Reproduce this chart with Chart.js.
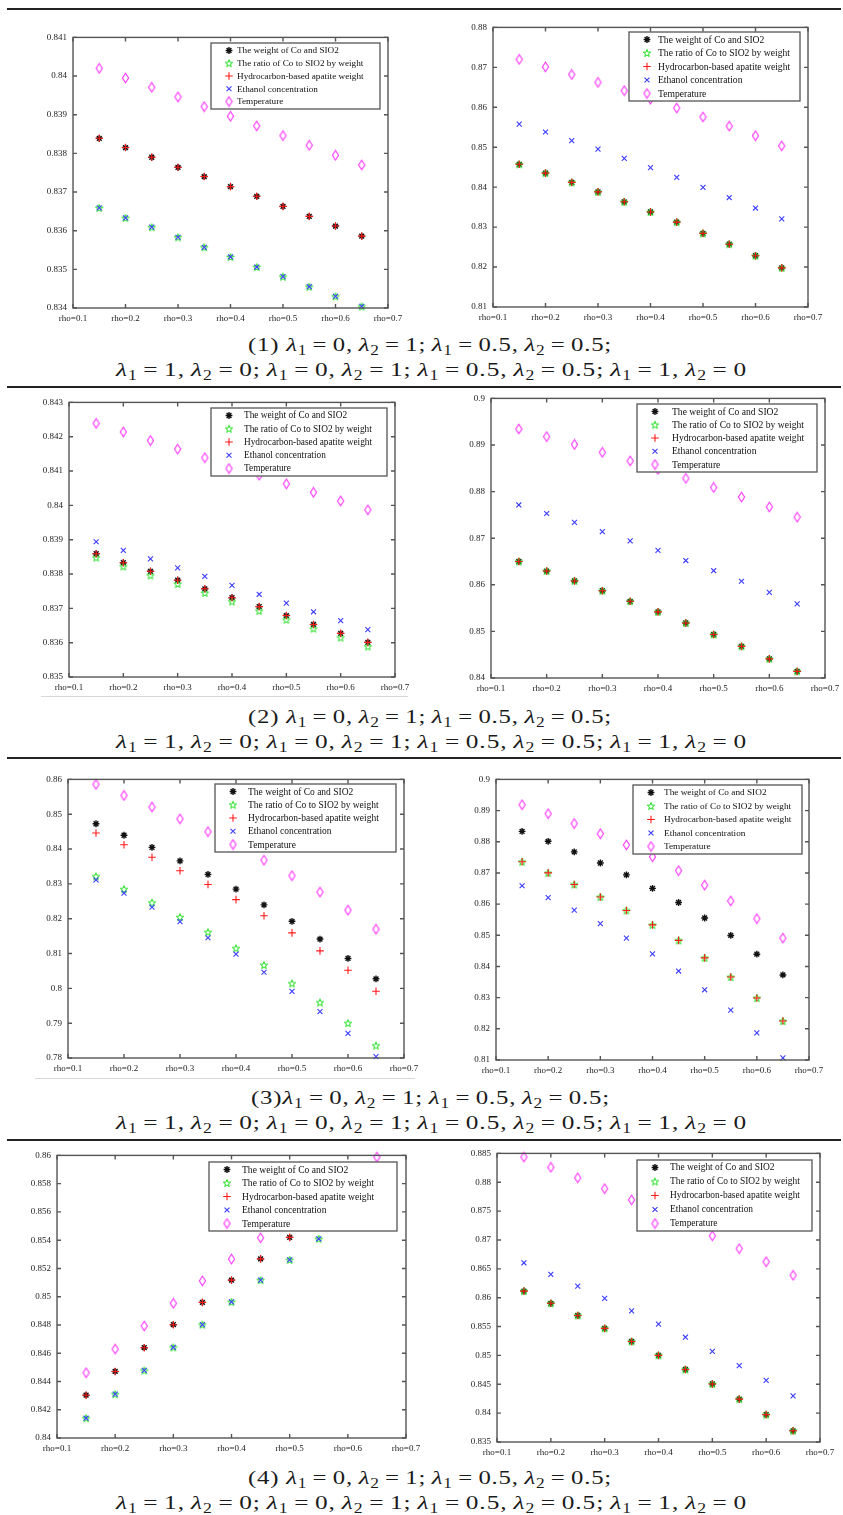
<!DOCTYPE html>
<html>
<head>
<meta charset="utf-8">
<script src="https://cdn.jsdelivr.net/npm/chart.js@4.4.1/dist/chart.umd.min.js"></script>
<style>
  body { margin: 0; width: 843px; height: 1515px; position: relative; background: #fff; overflow: hidden; }
  .rule { position: absolute; left: 7px; width: 834px; background: #222; }
  .faint { position: absolute; height: 1px; background: #d8d8d8; }
  .plot { position: absolute; }
  .cap { position: absolute; white-space: nowrap; font-family: "Liberation Serif", "DejaVu Serif", serif;
         font-size: 19.5px; line-height: 24px; color: #1a1a1a; transform-origin: 0 50%; }
  .cap sub { font-size: 70%; vertical-align: -0.3em; line-height: 0; }
  .cap .eq { padding: 0 0.22em; }
</style>
</head>
<body>
<div class="rule" style="top:8px;height:2px"></div>
<div class="rule" style="top:386px;height:1.5px"></div>
<div class="rule" style="top:757px;height:1.5px"></div>
<div class="rule" style="top:1139px;height:1.5px"></div>
<div class="faint" style="left:41px;width:367px;top:696px"></div>
<div class="faint" style="left:35px;width:380px;top:1078px"></div>
<script>
// x positions of the points and the axis ticks
const rho = [0.15, 0.2, 0.25, 0.3, 0.35, 0.4, 0.45, 0.5, 0.55, 0.6, 0.65];
const rhoTicks = [0.1, 0.2, 0.3, 0.4, 0.5, 0.6, 0.7];
const rhoTickLabels = ['rho=0.1', 'rho=0.2', 'rho=0.3', 'rho=0.4', 'rho=0.5', 'rho=0.6', 'rho=0.7'];
const seriesNames = ['The weight of Co and SIO2', 'The ratio of Co to SIO2 by weight',
  'Hydrocarbon-based apatite weight', 'Ethanol concentration', 'Temperature'];

// (1) left
const weight1L = [0.83839, 0.83815, 0.83790, 0.83764, 0.83740, 0.83714, 0.83689, 0.83663, 0.83637, 0.83612, 0.83586];
const ratio1L = [0.83659, 0.83633, 0.83609, 0.83583, 0.83557, 0.83532, 0.83506, 0.83481, 0.83455, 0.83430, 0.83404];
const hydro1L = [0.83839, 0.83815, 0.83790, 0.83764, 0.83740, 0.83714, 0.83689, 0.83663, 0.83637, 0.83612, 0.83586];
const ethanol1L = [0.83659, 0.83633, 0.83609, 0.83583, 0.83557, 0.83532, 0.83506, 0.83481, 0.83455, 0.83430, 0.83404];
const temp1L = [0.84020, 0.83995, 0.83971, 0.83946, 0.83921, 0.83896, 0.83871, 0.83846, 0.83821, 0.83795, 0.83770];
const yTicks1L = [0.834, 0.835, 0.836, 0.837, 0.838, 0.839, 0.840, 0.841];

// (1) right
const weight1R = [0.84573, 0.84351, 0.84120, 0.83881, 0.83634, 0.83379, 0.83124, 0.82843, 0.82572, 0.82283, 0.81979];
const ratio1R = [0.84573, 0.84351, 0.84120, 0.83881, 0.83634, 0.83379, 0.83124, 0.82843, 0.82572, 0.82283, 0.81979];
const hydro1R = [0.84573, 0.84351, 0.84120, 0.83881, 0.83634, 0.83379, 0.83124, 0.82843, 0.82572, 0.82283, 0.81979];
const ethanol1R = [0.85578, 0.85381, 0.85166, 0.84952, 0.84722, 0.84491, 0.84244, 0.83997, 0.83741, 0.83478, 0.83206];
const temp1R = [0.87201, 0.87012, 0.86822, 0.86624, 0.86418, 0.86204, 0.85982, 0.85759, 0.85529, 0.85290, 0.85035];
const yTicks1R = [0.81, 0.82, 0.83, 0.84, 0.85, 0.86, 0.87, 0.88];

// (2) left
const weight2L = [0.83859, 0.83833, 0.83808, 0.83782, 0.83757, 0.83731, 0.83705, 0.83679, 0.83653, 0.83627, 0.83601];
const ratio2L = [0.83848, 0.83822, 0.83796, 0.83771, 0.83745, 0.83720, 0.83693, 0.83667, 0.83641, 0.83615, 0.83589];
const hydro2L = [0.83859, 0.83833, 0.83808, 0.83782, 0.83757, 0.83731, 0.83705, 0.83679, 0.83653, 0.83627, 0.83601];
const ethanol2L = [0.83894, 0.83869, 0.83844, 0.83818, 0.83793, 0.83767, 0.83741, 0.83715, 0.83690, 0.83664, 0.83638];
const temp2L = [0.84239, 0.84214, 0.84189, 0.84164, 0.84139, 0.84114, 0.84088, 0.84063, 0.84038, 0.84013, 0.83987];
const yTicks2L = [0.835, 0.836, 0.837, 0.838, 0.839, 0.840, 0.841, 0.842, 0.843];

// (2) right
const weight2R = [0.86500, 0.86295, 0.86083, 0.85872, 0.85646, 0.85420, 0.85180, 0.84933, 0.84679, 0.84411, 0.84143];
const ratio2R = [0.86500, 0.86295, 0.86083, 0.85872, 0.85646, 0.85420, 0.85180, 0.84933, 0.84679, 0.84411, 0.84143];
const hydro2R = [0.86500, 0.86295, 0.86083, 0.85872, 0.85646, 0.85420, 0.85180, 0.84933, 0.84679, 0.84411, 0.84143];
const ethanol2R = [0.87713, 0.87530, 0.87339, 0.87142, 0.86944, 0.86740, 0.86521, 0.86302, 0.86076, 0.85836, 0.85589];
const temp2R = [0.89344, 0.89181, 0.89012, 0.88843, 0.88659, 0.88476, 0.88285, 0.88088, 0.87883, 0.87671, 0.87452];
const yTicks2R = [0.84, 0.85, 0.86, 0.87, 0.88, 0.89, 0.90];

// (3) left
const weight3L = [0.84726, 0.84396, 0.84047, 0.83660, 0.83274, 0.82849, 0.82396, 0.81925, 0.81415, 0.80858, 0.80274];
const ratio3L = [0.83217, 0.82849, 0.82462, 0.82047, 0.81613, 0.81151, 0.80670, 0.80142, 0.79594, 0.79000, 0.78358];
const hydro3L = [0.84462, 0.84123, 0.83764, 0.83377, 0.82981, 0.82547, 0.82085, 0.81594, 0.81075, 0.80519, 0.79915];
const ethanol3L = [0.83113, 0.82736, 0.82330, 0.81915, 0.81453, 0.80981, 0.80462, 0.79915, 0.79330, 0.78708, 0.78038];
const temp3L = [0.85858, 0.85538, 0.85208, 0.84868, 0.84500, 0.84104, 0.83679, 0.83236, 0.82764, 0.82245, 0.81698];
const yTicks3L = [0.78, 0.79, 0.80, 0.81, 0.82, 0.83, 0.84, 0.85, 0.86];

// (3) right
const weight3R = [0.88332, 0.88015, 0.87677, 0.87318, 0.86938, 0.86505, 0.86051, 0.85554, 0.84995, 0.84393, 0.83728];
const ratio3R = [0.87360, 0.87001, 0.86631, 0.86230, 0.85797, 0.85333, 0.84836, 0.84277, 0.83664, 0.82988, 0.82249];
const hydro3R = [0.87360, 0.87001, 0.86631, 0.86230, 0.85797, 0.85333, 0.84836, 0.84277, 0.83664, 0.82988, 0.82249];
const ethanol3R = [0.86589, 0.86209, 0.85808, 0.85375, 0.84910, 0.84403, 0.83854, 0.83252, 0.82598, 0.81869, 0.81066];
const temp3R = [0.89187, 0.88902, 0.88585, 0.88258, 0.87899, 0.87518, 0.87075, 0.86610, 0.86103, 0.85533, 0.84910];
const yTicks3R = [0.81, 0.82, 0.83, 0.84, 0.85, 0.86, 0.87, 0.88, 0.89, 0.90];

// (4) left
const weight4L = [0.84303, 0.84471, 0.84639, 0.84802, 0.84960, 0.85117, 0.85268, 0.85420, 0.85570, 0.85710, 0.85850];
const ratio4L = [0.84140, 0.84310, 0.84478, 0.84641, 0.84802, 0.84963, 0.85117, 0.85261, 0.85410, 0.85560, 0.85700];
const hydro4L = [0.84303, 0.84471, 0.84639, 0.84802, 0.84960, 0.85117, 0.85268, 0.85420, 0.85570, 0.85710, 0.85850];
const ethanol4L = [0.84140, 0.84310, 0.84478, 0.84641, 0.84802, 0.84963, 0.85117, 0.85261, 0.85410, 0.85560, 0.85700];
const temp4L = [0.84462, 0.84629, 0.84793, 0.84953, 0.85112, 0.85266, 0.85417, 0.85570, 0.85720, 0.85860, 0.85988];
const yTicks4L = [0.840, 0.842, 0.844, 0.846, 0.848, 0.850, 0.852, 0.854, 0.856, 0.858, 0.860];

// (4) right
const weight4R = [0.86114, 0.85903, 0.85692, 0.85469, 0.85241, 0.85001, 0.84756, 0.84505, 0.84242, 0.83974, 0.83694];
const ratio4R = [0.86114, 0.85903, 0.85692, 0.85469, 0.85241, 0.85001, 0.84756, 0.84505, 0.84242, 0.83974, 0.83694];
const hydro4R = [0.86114, 0.85903, 0.85692, 0.85469, 0.85241, 0.85001, 0.84756, 0.84505, 0.84242, 0.83974, 0.83694];
const ethanol4R = [0.86605, 0.86405, 0.86200, 0.85989, 0.85772, 0.85543, 0.85315, 0.85069, 0.84824, 0.84568, 0.84299];
const temp4R = [0.88437, 0.88260, 0.88078, 0.87889, 0.87695, 0.87495, 0.87290, 0.87073, 0.86851, 0.86622, 0.86388];
const yTicks4R = [0.835, 0.840, 0.845, 0.850, 0.855, 0.860, 0.865, 0.870, 0.875, 0.880, 0.885];

// caption lambda pairs
const captionTop = [[0, 1], [0.5, 0.5]];
const captionBottom = [[1, 0], [0, 1], [0.5, 0.5], [1, 0]];

// page layout: plot area [left, top, right, bottom], legend box, text offset, legend font size
const panels = [
  { area: [73, 34, 388, 308], legend: [211, 43, 380, 109], textOff: 26, fs: 9.2, yTicks: yTicks1L, series: [weight1L, ratio1L, hydro1L, ethanol1L, temp1L] },
  { area: [493, 24, 808, 307], legend: [629, 32, 800, 101], textOff: 29, fs: 9.6, yTicks: yTicks1R, series: [weight1R, ratio1R, hydro1R, ethanol1R, temp1R] },
  { area: [69, 399, 395, 677], legend: [211, 408, 387, 476], textOff: 33, fs: 9.3, yTicks: yTicks2L, series: [weight2L, ratio2L, hydro2L, ethanol2L, temp2L] },
  { area: [491, 395, 825, 678], legend: [637, 404, 817, 472], textOff: 35, fs: 9.6, yTicks: yTicks2R, series: [weight2R, ratio2R, hydro2R, ethanol2R, temp2R] },
  { area: [68, 776, 404, 1058], legend: [215, 784, 396, 852], textOff: 33, fs: 9.5, yTicks: yTicks3L, series: [weight3L, ratio3L, hydro3L, ethanol3L, temp3L] },
  { area: [496, 776, 809, 1060], legend: [633, 785, 802, 854], textOff: 31, fs: 9.25, yTicks: yTicks3R, series: [weight3R, ratio3R, hydro3R, ethanol3R, temp3R] },
  { area: [57, 1152, 406, 1438], legend: [209, 1162, 397, 1231], textOff: 33, fs: 9.6, yTicks: yTicks4L, series: [weight4L, ratio4L, hydro4L, ethanol4L, temp4L] },
  { area: [497, 1150, 820, 1442], legend: [637, 1160, 812, 1231], textOff: 33, fs: 9.45, yTicks: yTicks4R, series: [weight4R, ratio4R, hydro4R, ethanol4R, temp4R] },
];

const captions = [
  { n: '(1) ', top: 345, bottom: 370, l1: 248, w1: 364 },
  { n: '(2) ', top: 717, bottom: 742, l1: 248, w1: 364 },
  { n: '(3)', top: 1098, bottom: 1123, l1: 251, w1: 359 },
  { n: '(4) ', top: 1478, bottom: 1503, l1: 248, w1: 364 },
];

// marker images for the pentagram and the tall diamond
function pentagram(color) {
  const c = document.createElement('canvas');
  c.width = 10; c.height = 10;
  const g = c.getContext('2d');
  g.strokeStyle = color; g.lineWidth = 1;
  g.beginPath();
  for (let k = 0; k < 10; k++) {
    const r = k % 2 === 0 ? 3.9 : 1.6;
    const a = -Math.PI / 2 + k * Math.PI / 5;
    const px = 5 + r * Math.cos(a), py = 5.4 + r * Math.sin(a);
    if (k === 0) g.moveTo(px, py); else g.lineTo(px, py);
  }
  g.closePath();
  g.stroke();
  return c;
}
function diamond(color) {
  const c = document.createElement('canvas');
  c.width = 9; c.height = 12;
  const g = c.getContext('2d');
  g.strokeStyle = color; g.lineWidth = 1.1;
  g.beginPath();
  g.moveTo(4.5, 1.2); g.lineTo(7.6, 6); g.lineTo(4.5, 10.8); g.lineTo(1.4, 6); g.closePath();
  g.stroke();
  return c;
}

const markers = [
  { pointStyle: 'star', radius: 3.4, borderColor: '#111', borderWidth: 1.4 },
  { pointStyle: pentagram('#1ee01e'), radius: 4, borderColor: '#1ee01e', borderWidth: 1 },
  { pointStyle: 'cross', radius: 3.8, borderColor: '#ff1a1a', borderWidth: 1.1 },
  { pointStyle: 'crossRot', radius: 3.5, borderColor: '#3b3bff', borderWidth: 1.1 },
  { pointStyle: diamond('#ff30ff'), radius: 5, borderColor: '#ff30ff', borderWidth: 1.1 },
];

// box, inward ticks and an opaque legend inside the axes
const matlabBox = {
  id: 'matlabBox',
  afterDatasetsDraw(chart, args, opts) {
    const { ctx, chartArea: a, scales: { x, y } } = chart;
    ctx.save();
    ctx.strokeStyle = '#555';
    ctx.lineWidth = 1.4;
    ctx.beginPath();
    x.ticks.forEach((t) => {
      const px = x.getPixelForValue(t.value);
      ctx.moveTo(px, a.bottom); ctx.lineTo(px, a.bottom - 4);
      ctx.moveTo(px, a.top); ctx.lineTo(px, a.top + 4);
    });
    y.ticks.forEach((t) => {
      const py = y.getPixelForValue(t.value);
      ctx.moveTo(a.left, py); ctx.lineTo(a.left + 4, py);
      ctx.moveTo(a.right, py); ctx.lineTo(a.right - 4, py);
    });
    ctx.stroke();
    ctx.strokeRect(a.left, a.top, a.right - a.left, a.bottom - a.top);

    const [l, t, r, b] = opts.box;
    ctx.fillStyle = '#fff';
    ctx.fillRect(l, t, r - l, b - t);
    ctx.strokeStyle = '#555';
    ctx.lineWidth = 1.3;
    ctx.strokeRect(l, t, r - l, b - t);
    const step = (b - t - 15) / 4;
    ctx.font = opts.fs + 'px "Liberation Serif", serif';
    ctx.textBaseline = 'middle';
    chart.data.datasets.forEach((ds, i) => {
      const yy = t + 7.5 + i * step;
      ctx.strokeStyle = ds.borderColor;
      ctx.fillStyle = 'rgba(0,0,0,0)';
      ctx.lineWidth = ds.borderWidth;
      Chart.helpers.drawPoint(ctx, { pointStyle: ds.pointStyle, radius: ds.radius, rotation: 0, borderWidth: ds.borderWidth }, l + 18, yy);
      ctx.fillStyle = '#111';
      ctx.fillText(ds.label, l + opts.textOff, yy + 0.5);
    });
    ctx.restore();
  },
};

const padL = 42, padT = 8, padR = 24, padB = 20;
const tickFont = { family: '"Liberation Serif", serif', size: 9 };

panels.forEach((p) => {
  const [L, T, R, B] = p.area;
  const w = R - L + padL + padR;
  const h = B - T + padT + padB;
  const left = L - padL, top = T - padT;
  const holder = document.createElement('div');
  holder.className = 'plot';
  holder.style.left = left + 'px';
  holder.style.top = top + 'px';
  const cv = document.createElement('canvas');
  cv.width = w; cv.height = h;
  cv.style.width = w + 'px'; cv.style.height = h + 'px';
  holder.appendChild(cv);
  document.body.appendChild(holder);

  const [ll, lt, lr, lb] = p.legend;
  new Chart(cv, {
    type: 'scatter',
    data: {
      datasets: seriesNames.map((name, i) => ({
        label: name,
        data: rho.map((r, k) => ({ x: r, y: p.series[i][k] })),
        backgroundColor: 'rgba(0,0,0,0)',
        hoverRadius: markers[i].radius,
        clip: false,
        order: 5 - i,
        ...markers[i],
      })),
    },
    options: {
      responsive: false,
      animation: false,
      events: [],
      layout: { padding: { left: 0, top: padT, right: padR, bottom: 0 } },
      plugins: {
        legend: { display: false },
        tooltip: { enabled: false },
        matlabBox: { box: [ll - left, lt - top, lr - left, lb - top], textOff: p.textOff, fs: p.fs },
      },
      scales: {
        x: {
          type: 'linear',
          min: rhoTicks[0],
          max: rhoTicks[rhoTicks.length - 1],
          afterBuildTicks: (s) => { s.ticks = rhoTicks.map((v) => ({ value: v })); },
          afterFit: (s) => { s.height = padB; },
          grid: { display: false, drawTicks: false },
          border: { display: false },
          ticks: { autoSkip: false, maxRotation: 0, padding: 5, font: tickFont, color: '#222',
            callback: (v, i) => rhoTickLabels[i] },
        },
        y: {
          type: 'linear',
          min: p.yTicks[0],
          max: p.yTicks[p.yTicks.length - 1],
          afterBuildTicks: (s) => { s.ticks = p.yTicks.map((v) => ({ value: v })); },
          afterFit: (s) => { s.width = padL; },
          grid: { display: false, drawTicks: false },
          border: { display: false },
          ticks: { autoSkip: false, padding: 6, font: tickFont, color: '#222',
            callback: (v) => String(Number(v.toFixed(4))) },
        },
      },
    },
    plugins: [matlabBox],
  });
});

// captions: a little letter spacing, the rest by a horizontal stretch
const lam = (i, v) => '<i>λ</i><sub>' + i + '</sub><span class="eq">=</span>' + v;
const pairs = (list) => list.map(([a, b]) => lam(1, a) + ',&#8201;' + lam(2, b)).join(';&#8201;');
captions.forEach((c) => {
  const lines = [
    { html: c.n + pairs(captionTop) + ';', left: c.l1, w: c.w1, y: c.top },
    { html: pairs(captionBottom), left: 116, w: 631, y: c.bottom },
  ];
  lines.forEach((ln) => {
    const s = document.createElement('div');
    s.className = 'cap';
    s.innerHTML = ln.html;
    s.style.left = ln.left + 'px';
    s.style.top = (ln.y - 12) + 'px';
    document.body.appendChild(s);
    const natural = s.getBoundingClientRect().width;
    const chars = s.textContent.length;
    const spacing = Math.max(0, (ln.w - natural) * 0.2 / chars);
    s.style.letterSpacing = spacing.toFixed(2) + 'px';
    const widened = s.getBoundingClientRect().width;
    s.style.transform = 'scaleX(' + (ln.w / widened).toFixed(4) + ')';
  });
});
</script>
</body>
</html>
